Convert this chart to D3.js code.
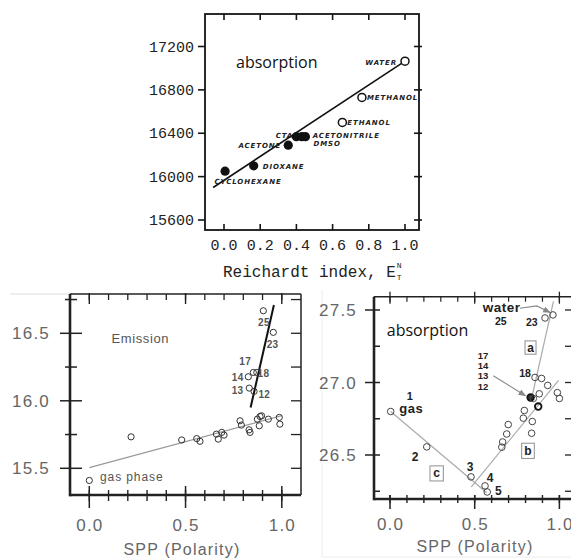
<!DOCTYPE html>
<html><head><meta charset="utf-8">
<script src="https://cdn.jsdelivr.net/npm/d3@7"></script>
<style>body{margin:0;background:#fff} svg{display:block}</style>
</head><body><svg id="c" width="571" height="560"></svg>
<script>
// ================= DATA =================
// --- top panel: absorption vs Reichardt index ---
const topSolvents = ["CYCLOHEXANE","DIOXANE","ACETONE","CTA","DMSO","ACETONITRILE","ETHANOL","METHANOL","WATER"];
const topEt  = [0.006, 0.164, 0.355, 0.40, 0.43, 0.45, 0.654, 0.762, 1.0];
const topNu  = [16050, 16100, 16290, 16368, 16368, 16368, 16500, 16730, 17065];
const topAprotic = [true, true, true, true, true, true, false, false, false];
const topFitEt = [-0.06, 1.0];
const topFitNu = [15900, 17065];
const topXTicks = [0.0, 0.2, 0.4, 0.6, 0.8, 1.0];
const topXTickLabels = ["0.0","0.2","0.4","0.6","0.8","1.0"];
const topYTicks = [15600, 16000, 16400, 16800, 17200];
const topYTickLabels = ["15600","16000","16400","16800","17200"];

// --- bottom-left: emission vs SPP ---
const emSpp = [0.0, 0.217, 0.48, 0.558, 0.575, 0.66, 0.67, 0.688, 0.70, 0.783, 0.79, 0.83, 0.835, 0.873, 0.883, 0.887, 0.895, 0.93, 0.987, 0.99,
               0.904, 0.956, 0.826, 0.852, 0.87, 0.831, 0.856];
const emNu  = [15.41, 15.733, 15.71, 15.72, 15.70, 15.753, 15.716, 15.766, 15.746, 15.852, 15.82, 15.785, 15.766, 15.864, 15.815, 15.884, 15.889, 15.864, 15.877, 15.827,
               16.667, 16.507, 16.178, 16.21, 16.21, 16.094, 16.07];
const emLabels = ["gas phase","","","","","","","","","","","","","","","","","","","",
                  "25","23","14","17","18","13","12"];
const emGasFitSpp = [0.0, 1.0];
const emGasFitNu  = [15.505, 15.89];
const emFitSpp = [0.838, 0.959];
const emFitNu  = [15.95, 16.71];
const blYTicks = [15.5, 16.0, 16.5];
const blYTickLabels = ["15.5","16.0","16.5"];
const blYMinor = [15.75, 16.25, 16.75];
const bXTicks = [0.0, 0.5, 1.0];
const bXTickLabels = ["0.0","0.5","1.0"];
const bXMinor = [0.0, 0.1, 0.2, 0.3, 0.4, 0.5, 0.6, 0.7, 0.8, 0.9, 1.0];

// --- bottom-right: absorption vs SPP ---
const abSpp = [0.004, 0.217, 0.478, 0.561, 0.574, 0.66, 0.665, 0.689, 0.698, 0.787, 0.793, 0.84, 0.836, 0.83, 0.846, 0.875, 0.881, 0.856, 0.895, 0.931, 0.988, 1.0, 0.915, 0.962];
const abNu  = [26.80, 26.556, 26.349, 26.287, 26.245, 26.554, 26.59, 26.645, 26.71, 26.754, 26.807, 26.731, 26.65, 26.897, 26.89, 26.834, 26.922, 27.035, 27.028, 26.98, 26.93, 26.89, 27.445, 27.466];
const abCount = [1,1,1,1,1,1,1,1,1,1,1,1,1,4,1,2,1,1,1,1,1,1,1,1]; // solvents sharing a point
const abLineCSpp = [0.004, 0.571], abLineCNu = [26.80, 26.24];
const abLineBSpp = [0.48, 0.995],  abLineBNu = [26.28, 27.015];
const abLineASpp = [0.836, 0.965], abLineANu = [26.89, 27.56];
const brYTicks = [26.5, 27.0, 27.5];
const brYTickLabels = ["26.5","27.0","27.5"];
const brYMinor = [26.25, 26.75, 27.25];

// ================= DRAW =================
const svg = d3.select("#c");
svg.append("rect").attr("width",571).attr("height",560).attr("fill","#fff");
const F_MONO = "'Liberation Mono','DejaVu Sans Mono',monospace";
const F_SANS = "'Liberation Sans',Arial,sans-serif";
const F_LAB = "'DejaVu Sans',sans-serif";

svg.append("defs").append("marker").attr("id","ah").attr("viewBox","0 0 10 10")
  .attr("refX",9).attr("refY",5).attr("markerWidth",7).attr("markerHeight",7).attr("orient","auto")
  .append("path").attr("d","M0,1L10,5L0,9Z").attr("fill","#888");

function lines(g, data, f, color, w){
  g.selectAll(null).data(data).enter().append("line")
    .each(function(d){ const c=f(d); d3.select(this).attr("x1",c[0]).attr("y1",c[1]).attr("x2",c[2]).attr("y2",c[3]); })
    .attr("stroke",color).attr("stroke-width",w);
}

// ---------- TOP PANEL ----------
{
  const g = svg.append("g");
  const xT = d3.scaleLinear().domain([0,1]).range([224,405]);
  const yT = d3.scaleLinear().domain([15600,17200]).range([220,46.5]);
  const L=205, R=419, Tp=14, B=230, col="#151515";
  g.append("rect").attr("x",L).attr("y",Tp).attr("width",R-L).attr("height",B-Tp)
    .attr("fill","none").attr("stroke",col).attr("stroke-width",1.8);
  lines(g, topXTicks, d=>[xT(d),B,xT(d),B-6], col, 1.6);
  lines(g, topXTicks, d=>[xT(d),Tp,xT(d),Tp+6], col, 1.6);
  lines(g, topYTicks, d=>[L-7,yT(d),L,yT(d)], col, 1.6);
  lines(g, topYTicks, d=>[R-5,yT(d),R+3,yT(d)], col, 1.6);
  g.selectAll(null).data(topXTicks).enter().append("text")
    .attr("x",d=>xT(d)).attr("y",250).attr("text-anchor","middle")
    .attr("font-family",F_MONO).attr("font-size",15).attr("fill","#222")
    .text((d,i)=>topXTickLabels[i]);
  g.selectAll(null).data(topYTicks).enter().append("text")
    .attr("x",194).attr("y",d=>yT(d)+5).attr("text-anchor","end")
    .attr("font-family",F_MONO).attr("font-size",15).attr("fill","#222")
    .text((d,i)=>topYTickLabels[i]);
  const xl = g.append("text").attr("x",223).attr("y",277).attr("font-family",F_MONO)
    .attr("font-size",16).attr("fill","#222").text("Reichardt index, E");
  const w = xl.node().getComputedTextLength();
  g.append("text").attr("x",223+w+1).attr("y",268).attr("font-family",F_MONO).attr("font-size",8).attr("fill","#222").text("N");
  g.append("text").attr("x",223+w+1).attr("y",280).attr("font-family",F_MONO).attr("font-size",8).attr("fill","#222").text("T");

  g.append("text").attr("x",236).attr("y",68).attr("font-family","'Open Sans',sans-serif")
    .attr("font-size",16).attr("fill","#111").text("absorption");

  // fit line
  g.append("line").attr("x1",xT(topFitEt[0])).attr("y1",yT(topFitNu[0]))
    .attr("x2",xT(topFitEt[1])).attr("y2",yT(topFitNu[1])).attr("stroke","#111").attr("stroke-width",1.6);

  const pos = {CYCLOHEXANE:[-10.7,12.6,"start"], DIOXANE:[9,3,"start"], ACETONE:[-7,2.5,"end"],
               CTA:[-20.7,1,"start"], DMSO:[11.6,9.5,"start"], ACETONITRILE:[7.3,1,"start"],
               ETHANOL:[5,3,"start"], METHANOL:[5,3,"start"], WATER:[-8,3.5,"end"]};
  g.selectAll(null).data(topSolvents).enter().append("text")
    .attr("x",(d,i)=>xT(topEt[i])+pos[d][0]).attr("y",(d,i)=>yT(topNu[i])+pos[d][1])
    .attr("text-anchor",d=>pos[d][2])
    .attr("font-family",F_LAB).attr("font-weight","bold").attr("font-style","italic")
    .attr("font-size",7).attr("letter-spacing",0.9).attr("fill","#222").text(d=>d);
  g.selectAll(null).data(topSolvents).enter().append("circle")
    .attr("cx",(d,i)=>xT(topEt[i])).attr("cy",(d,i)=>yT(topNu[i]))
    .attr("r",(d,i)=>topAprotic[i]?4.6:4)
    .attr("fill",(d,i)=>topAprotic[i]?"#111":"#fff")
    .attr("stroke","#111").attr("stroke-width",(d,i)=>topAprotic[i]?0:1.5);
}

// ---------- BOTTOM-LEFT PANEL ----------
{
  const g = svg.append("g");
  const xL = d3.scaleLinear().domain([0,1]).range([89.3,281.8]);
  const yL = d3.scaleLinear().domain([15.5,16.5]).range([468.3,333.3]);
  const L=70, R=301, Tp=294, B=495, col="#222";
  g.append("line").attr("x1",10).attr("x2",L).attr("y1",Tp).attr("y2",Tp).attr("stroke","#ddd").attr("stroke-width",1);
  g.append("line").attr("x1",L).attr("x2",R).attr("y1",Tp).attr("y2",Tp).attr("stroke",col).attr("stroke-width",1.5);
  g.append("line").attr("x1",R).attr("x2",R).attr("y1",Tp).attr("y2",B).attr("stroke",col).attr("stroke-width",1.5);
  g.append("line").attr("x1",L).attr("x2",R).attr("y1",B).attr("y2",B).attr("stroke",col).attr("stroke-width",2.6);
  g.append("line").attr("x1",L).attr("x2",L).attr("y1",Tp).attr("y2",B+1.3).attr("stroke",col).attr("stroke-width",2.6);
  lines(g, blYTicks, d=>[L-10,yL(d),L+12,yL(d)], col, 1.5);
  lines(g, blYMinor, d=>[L-5,yL(d),L+7,yL(d)], col, 1.5);
  lines(g, blYTicks.concat(blYMinor), d=>[R-10,yL(d),R,yL(d)], col, 1.3);
  lines(g, bXMinor, d=>[xL(d),B-5,xL(d),B+6], col, 1.4);
  lines(g, bXTicks, d=>[xL(d),B-9,xL(d),B+13], col, 1.5);
  lines(g, bXMinor, d=>[xL(d),Tp,xL(d),Tp+6], col, 1.3);
  lines(g, bXTicks, d=>[xL(d),Tp-1,xL(d),Tp+10], col, 1.4);
  g.selectAll(null).data(blYTicks).enter().append("text")
    .attr("x",50).attr("y",d=>yL(d)+6).attr("text-anchor","end")
    .attr("font-family",F_SANS).attr("font-size",17).attr("letter-spacing",1.2).attr("fill","#666")
    .text((d,i)=>blYTickLabels[i]);
  g.selectAll(null).data(bXTicks).enter().append("text")
    .attr("x",d=>xL(d)+0.6).attr("y",531).attr("text-anchor","middle")
    .attr("font-family",F_SANS).attr("font-size",17).attr("letter-spacing",1.2).attr("fill","#666")
    .text((d,i)=>bXTickLabels[i]);
  g.append("text").attr("x",182).attr("y",555).attr("text-anchor","middle")
    .attr("font-family",F_SANS).attr("font-size",16).attr("letter-spacing",1.2).attr("fill","#666").text("SPP (Polarity)");
  g.append("text").attr("x",111.5).attr("y",343).attr("font-family",F_SANS).attr("font-size",13)
    .attr("letter-spacing",0.6).attr("fill","#555").text("Emission");

  // fit lines
  g.append("line").attr("x1",xL(emGasFitSpp[0])).attr("y1",yL(emGasFitNu[0]))
    .attr("x2",xL(emGasFitSpp[1])).attr("y2",yL(emGasFitNu[1])).attr("stroke","#999").attr("stroke-width",1.1);
  g.append("line").attr("x1",xL(emFitSpp[0])).attr("y1",yL(emFitNu[0]))
    .attr("x2",xL(emFitSpp[1])).attr("y2",yL(emFitNu[1])).attr("stroke","#111").attr("stroke-width",2);

  const pos = {"gas phase":[10.7,1,"start"], "25":[-5.3,15.3,"start"], "23":[-6.6,15.7,"start"],
               "14":[-4.8,4.3,"end"], "17":[-14,-7.3,"start"], "18":[0.8,4.7,"start"],
               "13":[-5.8,6,"end"], "12":[4.3,6.2,"start"]};
  const lab = emLabels.map((t,i)=>({t,i})).filter(d=>d.t);
  g.selectAll(null).data(lab).enter().append("text")
    .attr("x",d=>xL(emSpp[d.i])+pos[d.t][0]).attr("y",d=>yL(emNu[d.i])+pos[d.t][1])
    .attr("text-anchor",d=>pos[d.t][2])
    .attr("font-family",F_SANS).attr("font-size",d=>d.t==="gas phase"?12:10)
    .attr("font-weight",d=>d.t==="gas phase"?"normal":"bold")
    .attr("letter-spacing",d=>d.t==="gas phase"?0.9:0.3).attr("fill","#555").text(d=>d.t);
  g.selectAll(null).data(emSpp).enter().append("circle")
    .attr("cx",(d,i)=>xL(emSpp[i])).attr("cy",(d,i)=>yL(emNu[i])).attr("r",3.1)
    .attr("fill","none").attr("stroke","#333").attr("stroke-width",1);
}

// ---------- BOTTOM-RIGHT PANEL ----------
{
  const g = svg.append("g");
  g.append("line").attr("x1",322).attr("x2",322).attr("y1",290).attr("y2",557).attr("stroke","#ececec").attr("stroke-width",1);
  g.append("line").attr("x1",322).attr("x2",571).attr("y1",557).attr("y2",557).attr("stroke","#ececec").attr("stroke-width",1);
  const xR = d3.scaleLinear().domain([0,1]).range([390,559.4]);
  const yR = d3.scaleLinear().domain([26.5,27.5]).range([455,310]);
  const L=374, R=573, Tp=296.7, B=499, col="#222";
  g.append("line").attr("x1",L).attr("x2",R).attr("y1",Tp).attr("y2",Tp).attr("stroke",col).attr("stroke-width",1.5);
  g.append("line").attr("x1",R).attr("x2",R).attr("y1",Tp).attr("y2",B).attr("stroke",col).attr("stroke-width",1.5);
  g.append("line").attr("x1",L).attr("x2",R).attr("y1",B).attr("y2",B).attr("stroke",col).attr("stroke-width",2.6);
  g.append("line").attr("x1",L).attr("x2",L).attr("y1",Tp).attr("y2",B+1.3).attr("stroke",col).attr("stroke-width",2.6);
  lines(g, brYTicks, d=>[L-9,yR(d),L+6,yR(d)], col, 1.5);
  lines(g, brYMinor, d=>[L-1,yR(d),L+6,yR(d)], col, 1.5);
  lines(g, brYTicks.concat(brYMinor), d=>[R-8,yR(d),R,yR(d)], col, 1.3);
  lines(g, bXMinor, d=>[xR(d),B-4,xR(d),B+4], col, 1.4);
  lines(g, bXTicks, d=>[xR(d),B-4,xR(d),B+10], col, 1.5);
  lines(g, bXMinor, d=>[xR(d),Tp,xR(d),Tp+5], col, 1.2);
  lines(g, bXTicks, d=>[xR(d),Tp-5,xR(d),Tp+7], col, 1.3);
  g.selectAll(null).data(brYTicks).enter().append("text")
    .attr("x",357).attr("y",d=>yR(d)+6).attr("text-anchor","end")
    .attr("font-family",F_SANS).attr("font-size",17).attr("letter-spacing",1.2).attr("fill","#666")
    .text((d,i)=>brYTickLabels[i]);
  g.selectAll(null).data(bXTicks).enter().append("text")
    .attr("x",d=>xR(d)+0.6).attr("y",530).attr("text-anchor","middle")
    .attr("font-family",F_SANS).attr("font-size",17).attr("letter-spacing",1.2).attr("fill","#666")
    .text((d,i)=>bXTickLabels[i]);
  g.append("text").attr("x",475).attr("y",552).attr("text-anchor","middle")
    .attr("font-family",F_SANS).attr("font-size",16).attr("letter-spacing",1.2).attr("fill","#666").text("SPP (Polarity)");
  g.append("text").attr("x",xR(-0.019)).attr("y",yR(27.321)).attr("font-family","'Open Sans',sans-serif")
    .attr("font-size",16).attr("fill","#111").text("absorption");

  // fit lines
  [[abLineCSpp,abLineCNu],[abLineBSpp,abLineBNu],[abLineASpp,abLineANu]].forEach(([s,n])=>{
    g.append("line").attr("x1",xR(s[0])).attr("y1",yR(n[0])).attr("x2",xR(s[1])).attr("y2",yR(n[1]))
      .attr("stroke","#aaa").attr("stroke-width",1.2);
  });
  // arrows
  const water = [[0.767,27.512],[0.866,27.528],[0.945,27.483]];
  g.append("path").attr("d",d3.line().x(d=>xR(d[0])).y(d=>yR(d[1]))(water))
    .attr("fill","none").attr("stroke","#888").attr("stroke-width",1.1).attr("marker-end","url(#ah)");
  const arr13 = [[0.61,27.046],[0.80,26.908]];
  g.append("path").attr("d",d3.line().x(d=>xR(d[0])).y(d=>yR(d[1]))(arr13))
    .attr("fill","none").attr("stroke","#888").attr("stroke-width",1.1).attr("marker-end","url(#ah)");

  // boxes
  const boxes = [["a",0.797,0.862,27.287,27.195],["b",0.777,0.852,26.581,26.476],["c",0.236,0.315,26.425,26.321]];
  boxes.forEach(([t,x0,x1,y0,y1])=>{
    g.append("rect").attr("x",xR(x0)).attr("y",yR(y0)).attr("width",xR(x1)-xR(x0)).attr("height",yR(y1)-yR(y0))
      .attr("fill","#fff").attr("stroke","#999").attr("stroke-width",1.1);
    g.append("text").attr("x",(xR(x0)+xR(x1))/2).attr("y",(yR(y0)+yR(y1))/2+4).attr("text-anchor","middle")
      .attr("font-family",F_SANS).attr("font-weight","bold").attr("font-size",12).attr("fill","#222").text(t);
  });
  // annotations
  const ann = [["water",0.547,27.485,13.5],["25",0.62,27.397,10.5],["23",0.803,27.39,10.5],
               ["17",0.518,27.162,9.5],["14",0.518,27.092,9.5],["13",0.518,27.022,9.5],["12",0.518,26.95,9.5],
               ["18",0.763,27.039,10.5],["1",0.099,26.878,11],["gas",0.055,26.793,13],
               ["2",0.128,26.459,12],["3",0.453,26.39,12],["4",0.571,26.314,12],["5",0.62,26.223,12]];
  g.selectAll(null).data(ann).enter().append("text")
    .attr("x",d=>xR(d[1])).attr("y",d=>yR(d[2])).attr("font-family",F_SANS).attr("font-weight","bold")
    .attr("font-size",d=>d[3]).attr("letter-spacing",d=>d[3]>12.5?0.5:0).attr("fill","#222").text(d=>d[0]);

  g.selectAll(null).data(abSpp).enter().append("circle")
    .attr("cx",(d,i)=>xR(abSpp[i])).attr("cy",(d,i)=>yR(abNu[i])).attr("r",3.3)
    .attr("fill",(d,i)=>abCount[i]>2?"#333":"none")
    .attr("stroke",(d,i)=>abCount[i]>1?"#111":"#444").attr("stroke-width",(d,i)=>abCount[i]>1?1.8:1);
}
</script></body></html>
